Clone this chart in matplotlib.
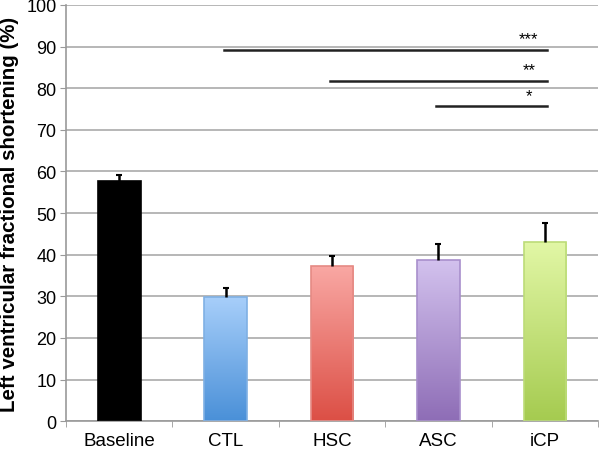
import numpy as np
import matplotlib.pyplot as plt
from matplotlib.colors import LinearSegmentedColormap

plt.rcParams['font.family'] = ['Liberation Sans', 'DejaVu Sans']

groups = ['Baseline', 'CTL', 'HSC', 'ASC', 'iCP']
means = [57.7, 29.8, 37.3, 38.7, 43.0]
errs = [1.4, 2.2, 2.4, 3.8, 4.6]
# (top colour, bottom colour, edge colour)
colours = [('#000000', '#000000', '#000000'),
           ('#a8cffa', '#4a90d8', '#7fb0e4'),
           ('#f9a8a4', '#dc4f45', '#e58a84'),
           ('#d3c2ee', '#8e6db6', '#a88fcc'),
           ('#e2f7a6', '#a5cb50', '#bcdc78')]

# significance: from group index to group index, height, label
sig_from = [1, 2, 3]
sig_to = [4, 4, 4]
sig_y = [89.2, 81.8, 75.6]
sig_lab = ['***', '**', '*']

fig = plt.figure(figsize=(6.01, 4.52), dpi=100)
ax = fig.add_axes([0.11, 0.066, 0.885, 0.921])

x = np.arange(len(groups))
w = 0.4
ax.set_xlim(-0.5, len(groups) - 0.5)
ax.set_ylim(0, 100)

for i in range(len(groups)):
    top, bot, edge = colours[i]
    cmap = LinearSegmentedColormap.from_list('g%d' % i, [bot, top])
    bar = ax.bar(x[i], means[i], w, color='none', edgecolor=edge, linewidth=1.2, zorder=3)[0]
    grad = np.linspace(0, 1, 256).reshape(-1, 1)
    im = ax.imshow(grad, cmap=cmap, origin='lower', aspect='auto',
                   extent=(x[i] - w / 2, x[i] + w / 2, 0, means[i]), zorder=2)
    im.set_clip_path(bar)
    eb = ax.errorbar(x[i], means[i], yerr=[[0], [errs[i]]], fmt='none', ecolor='black',
                     elinewidth=1.8, capsize=2, capthick=1.5, zorder=4)
    eb[1][0].set_visible(False)

for a, b, yy, lab in zip(sig_from, sig_to, sig_y, sig_lab):
    ax.plot([x[a] - 0.02, x[b] + 0.02], [yy, yy], color='#222222', lw=1.8, zorder=4)
    ax.text(x[b] - 0.15, yy + 0.8, lab, ha='center', va='bottom', fontsize=12)

ax.set_yticks(np.arange(0, 101, 10))
ax.set_xticks(x)
ax.set_xticklabels(groups, fontsize=13.5)
ax.set_xticks(np.arange(-0.5, len(groups), 1), minor=True)
ax.tick_params(axis='x', which='major', length=0, pad=8)
ax.tick_params(axis='x', which='minor', length=4, color='#999999', direction='out')
ax.tick_params(axis='y', labelsize=13, length=4, color='#999999', pad=3)
ax.yaxis.grid(True, color='#aaaaaa', lw=1.2, zorder=0)
ax.set_axisbelow(True)
for s in ['top', 'right']:
    ax.spines[s].set_visible(False)
ax.spines['left'].set_color('#999999')
ax.spines['bottom'].set_color('#999999')
ax.spines['left'].set_linewidth(1.2)
ax.spines['bottom'].set_linewidth(1.2)
ax.set_ylabel('Left ventricular fractional shortening (%)', fontsize=14.8, fontweight='bold', labelpad=5)

fig.savefig('out.png', dpi=100)
